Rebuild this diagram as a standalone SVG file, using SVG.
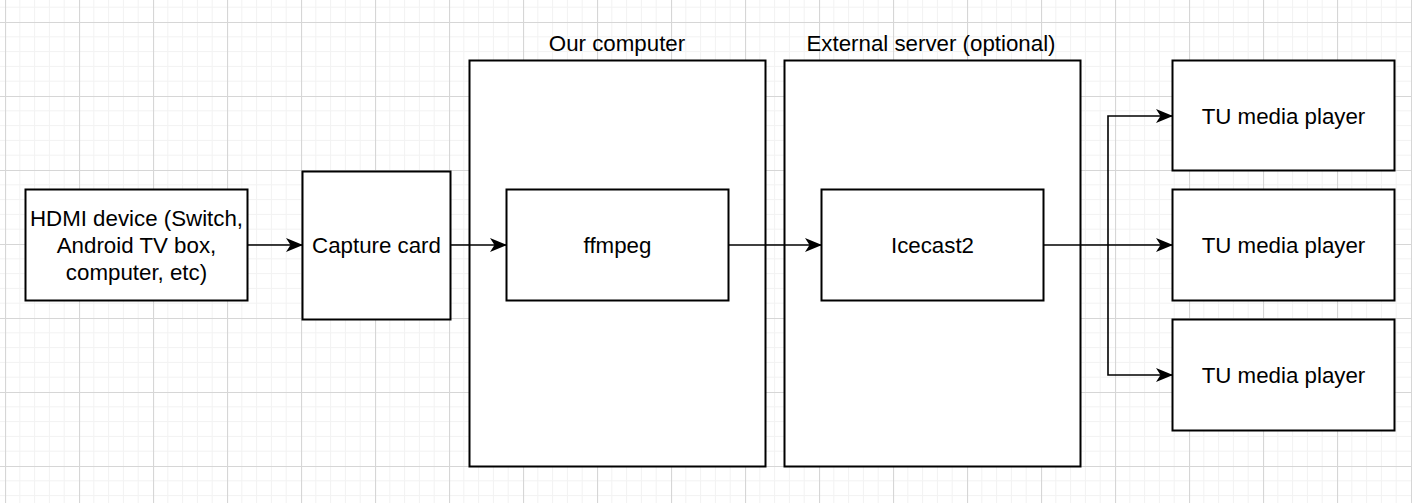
<svg xmlns="http://www.w3.org/2000/svg" width="1412" height="503" viewBox="0 0 1412 503">
<style>
.box{fill:#fff;stroke:#000;stroke-width:2}
.lbl{font-family:"Liberation Sans",Arial,sans-serif;font-size:22.3px;fill:#000;text-anchor:middle}
.edge{fill:none;stroke:#000;stroke-width:1.6}
</style>
<defs>
<pattern id="grid" patternUnits="userSpaceOnUse" x="5" y="22" width="74" height="74">
<path d="M14.8 0V74M29.6 0V74M44.4 0V74M59.2 0V74M0 14.8H74M0 29.6H74M0 44.4H74M0 59.2H74" stroke="#f2f2f2" stroke-width="1" fill="none"/>
<path d="M0.5 0V74M0 0.5H74" stroke="#d6d6d6" stroke-width="1.2" fill="none"/>
</pattern>
<marker id="arr" viewBox="0 0 17 14" refX="16" refY="7" markerWidth="17" markerHeight="14" markerUnits="userSpaceOnUse" orient="auto">
<path d="M0 0L17 7L0 14L4.5 7Z" fill="#000"/>
</marker>
</defs>
<rect width="1412" height="503" fill="#fff"/>
<rect width="1412" height="503" fill="url(#grid)"/>

<g id="our-computer">
<rect class="box" x="469.5" y="60.5" width="296" height="406"/>
<text class="lbl" x="617" y="51">Our computer</text>
</g>
<g id="external-server">
<rect class="box" x="784.5" y="60.5" width="296" height="406"/>
<text class="lbl" x="931" y="51">External server (optional)</text>
</g>
<g id="hdmi">
<rect class="box" x="25.5" y="189.5" width="222" height="111"/>
<text class="lbl" x="136.5" y="226">HDMI device (Switch,</text>
<text class="lbl" x="136.5" y="253">Android TV box,</text>
<text class="lbl" x="136.5" y="280">computer, etc)</text>
</g>
<g id="capture">
<rect class="box" x="302.5" y="171.5" width="148" height="148"/>
<text class="lbl" x="376.5" y="253">Capture card</text>
</g>
<g id="ffmpeg">
<rect class="box" x="506.5" y="189.5" width="222" height="111"/>
<text class="lbl" x="617.5" y="253">ffmpeg</text>
</g>
<g id="icecast">
<rect class="box" x="821.5" y="189.5" width="222" height="111"/>
<text class="lbl" x="932.5" y="253">Icecast2</text>
</g>
<g id="tu1">
<rect class="box" x="1172.5" y="60.5" width="222" height="110"/>
<text class="lbl" x="1283.5" y="124">TU media player</text>
</g>
<g id="tu2">
<rect class="box" x="1172.5" y="189.5" width="222" height="111"/>
<text class="lbl" x="1283.5" y="253">TU media player</text>
</g>
<g id="tu3">
<rect class="box" x="1172.5" y="319.5" width="222" height="111"/>
<text class="lbl" x="1283.5" y="383">TU media player</text>
</g>

<g id="connectors">
<path class="edge" d="M247.5 245H302" marker-end="url(#arr)"/>
<path class="edge" d="M450.5 245H506" marker-end="url(#arr)"/>
<path class="edge" d="M728.5 245H821" marker-end="url(#arr)"/>
<path class="edge" d="M1043.5 245H1172" marker-end="url(#arr)"/>
<path class="edge" d="M1108 245V116H1172" marker-end="url(#arr)"/>
<path class="edge" d="M1108 245V375H1172" marker-end="url(#arr)"/>
</g>
</svg>
